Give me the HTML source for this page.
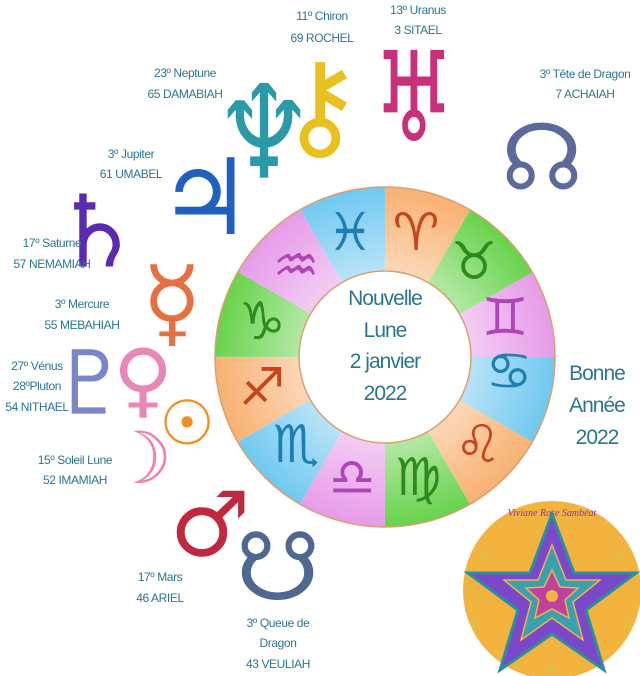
<!DOCTYPE html>
<html><head><meta charset="utf-8"><style>
html,body{margin:0;padding:0;background:#fff;width:640px;height:676px;overflow:hidden}
svg{display:block}
.l{font-family:"Liberation Sans",sans-serif;fill:#2c7590;font-size:12px;letter-spacing:-0.4px;text-anchor:middle}
.c{font-family:"Liberation Sans",sans-serif;fill:#2c7590;font-size:21px;letter-spacing:-1px;text-anchor:middle}
.g{font-family:"DejaVu Sans",sans-serif;text-anchor:middle;dominant-baseline:central}
.z{font-family:"DejaVu Sans",sans-serif;text-anchor:middle;dominant-baseline:central;font-size:52px}
</style></head><body>
<svg width="640" height="676" viewBox="0 0 640 676">
<defs>
<radialGradient id="rg" cx="385" cy="357" r="172" gradientUnits="userSpaceOnUse">
<stop offset="0.5" stop-color="#fff" stop-opacity="0.5"/><stop offset="1" stop-color="#fff" stop-opacity="0"/>
</radialGradient>
</defs>
<g fill="none" stroke-width="84">
<circle cx="385" cy="357" r="128" stroke="#6fc8f0" stroke-dasharray="67.02 201.06" stroke-dashoffset="0"/>
<circle cx="385" cy="357" r="128" stroke="#f8b070" stroke-dasharray="67.02 201.06" stroke-dashoffset="-67.02"/>
<circle cx="385" cy="357" r="128" stroke="#66d24a" stroke-dasharray="67.02 201.06" stroke-dashoffset="-134.04"/>
<circle cx="385" cy="357" r="128" stroke="#e69ae8" stroke-dasharray="67.02 201.06" stroke-dashoffset="-201.06"/>
</g>
<circle cx="385" cy="357" r="128" fill="none" stroke="url(#rg)" stroke-width="84"/>
<circle cx="385" cy="357" r="170" fill="none" stroke="#d9a070" stroke-width="1.5"/>
<circle cx="385" cy="357" r="86" fill="#fff" stroke="#d9a070" stroke-width="1.5"/>
<g class="z">
<text x="509" y="372" fill="#1d7fb0">♋</text>
<text x="478" y="445" fill="#c4451e">♌</text>
<text x="418" y="478" fill="#2f8a1e">♍</text>
<text x="352" y="478" fill="#b044b8">♎</text>
<text x="296" y="445" fill="#1d7fb0">♏</text>
<text x="262" y="388" fill="#c4451e">♐</text>
<text x="262" y="322" fill="#2f8a1e">♑</text>
<text x="296" y="266" fill="#b044b8">♒</text>
<text x="350" y="233" fill="#1d7fb0">♓</text>
<text x="416" y="233" fill="#c4451e">♈</text>
<text x="474" y="262" fill="#2f8a1e">♉</text>
<text x="505" y="318" fill="#b044b8">♊</text>
</g>
<g class="c">
<text x="385" y="305">Nouvelle</text>
<text x="385" y="337">Lune</text>
<text x="385" y="368">2 janvier</text>
<text x="385" y="400">2022</text>
<text x="597" y="380">Bonne</text>
<text x="597" y="412">Année</text>
<text x="597" y="444">2022</text>
</g>
<g class="g">
<text x="320" y="105" font-size="118" fill="#e8c020">⚷</text>
<text transform="translate(414,98) scale(0.74,1)" font-size="125" fill="#c8307a">♅</text>
<text transform="translate(264,133) scale(0.87,1)" font-size="130" fill="#2a9aa8">♆</text>
<text x="542" y="158" font-size="92" fill="#5a6a9a">☊</text>
<text x="205" y="198" font-size="105" fill="#2060c0">♃</text>
<text x="97" y="232" font-size="100" fill="#5a2ab0">♄</text>
<text x="172" y="303" font-size="98" fill="#e87040">☿</text>
<text x="90" y="383" font-size="88" fill="#7a86c8">♇</text>
<text x="143" y="380" font-size="82" fill="#e888b8">♀</text>
<text x="187" y="423" font-size="62" fill="#f09020">☉</text>
<text x="140" y="458" font-size="72" fill="#f080b0">☽</text>
<text x="210" y="525" font-size="90" fill="#c02840">♂</text>
<text x="278" y="568" font-size="95" fill="#506890">☋</text>
</g>
<g class="l">
<text x="322" y="20">11º Chiron</text><text x="322" y="42">69 ROCHEL</text>
<text x="418" y="14">13º Uranus</text><text x="418" y="34">3 SITAEL</text>
<text x="185" y="77">23º Neptune</text><text x="185" y="98">65 DAMABIAH</text>
<text x="585" y="78">3º Tête de Dragon</text><text x="585" y="98">7 ACHAIAH</text>
<text x="131" y="158">3º Jupiter</text><text x="131" y="178">61 UMABEL</text>
<text x="52" y="247">17º Saturne</text><text x="52" y="268">57 NEMAMIAH</text>
<text x="82" y="308">3º Mercure</text><text x="82" y="329">55 MEBAHIAH</text>
<text x="37" y="370">27º Vénus</text><text x="37" y="390">28ºPluton</text><text x="37" y="411">54 NITHAEL</text>
<text x="75" y="464">15º Soleil Lune</text><text x="75" y="484">52 IMAMIAH</text>
<text x="160" y="581">17º Mars</text><text x="160" y="602">46 ARIEL</text>
<text x="278" y="627">3º Queue de</text><text x="278" y="647">Dragon</text><text x="278" y="668">43 VEULIAH</text>
</g>
<circle cx="552" cy="590" r="89" fill="#f3b33f"/>
<text x="552" y="516" font-family="Liberation Serif,serif" font-style="italic" font-size="10" fill="#8a3aa0" text-anchor="middle">Viviane Rose Sambéat</text>
<polygon points="552,514 574,573 636,573 586,610 604,670 552,634 500,670 518,610 468,573 530,573" fill="#7a48c8" stroke="#2a8fa0" stroke-width="3"/>
<polygon points="552,545 566,580 600,580 573,602 583,640 552,618 521,640 531,602 504,580 538,580" fill="#3aa0b0" stroke="#f3b33f" stroke-width="1.5"/>
<polygon points="552,570 560,587 578,588 565,600 569,618 552,609 535,618 539,600 526,588 544,587" fill="#c040a0" stroke="#f3b33f" stroke-width="1.5"/>
<circle cx="552" cy="596" r="6" fill="#f3b33f"/>
<g fill="#9be060" font-family="DejaVu Sans" font-size="14" text-anchor="middle">
<text x="485" y="560">☆</text><text x="619" y="560">☆</text><text x="475" y="628">☆</text><text x="629" y="628">☆</text><text x="552" y="675">☆</text>
</g>
</svg>
</body></html>
